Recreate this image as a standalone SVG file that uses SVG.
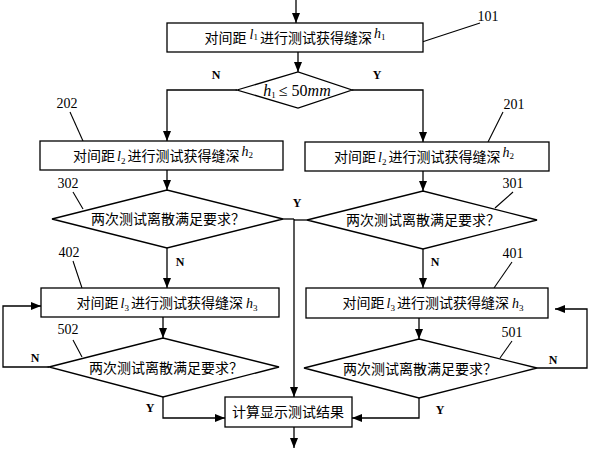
<svg xmlns="http://www.w3.org/2000/svg" width="591" height="450" viewBox="0 0 591 450">
<defs>
<marker id="ah" markerUnits="userSpaceOnUse" markerWidth="10" markerHeight="8" refX="10" refY="4" orient="auto">
<path d="M0,0 L10,4 L0,8 z" fill="#000"/>
</marker>
<style>
.box{fill:#fff;stroke:#000;stroke-width:1.3}
.ln{fill:none;stroke:#000;stroke-width:1.3}
.ld{fill:none;stroke:#000;stroke-width:1.1}
.arr{fill:none;stroke:#000;stroke-width:1.3;marker-end:url(#ah)}
.t{font-family:"Liberation Serif","Noto Sans CJK SC",serif;font-size:14px;fill:#000;text-anchor:middle}
.num{font-family:"Liberation Serif",serif;font-size:14px;fill:#000;text-anchor:middle}
.yn{font-family:"Liberation Serif",serif;font-size:12px;font-weight:bold;fill:#000;text-anchor:middle}
.i{font-style:italic}
.s{font-size:9px}
</style>
</defs>
<rect width="591" height="450" fill="#fff"/>
<g id="connectors">
<line class="arr" x1="296" y1="0" x2="296" y2="23"/>
<line class="arr" x1="298" y1="52" x2="298" y2="72"/>
<polyline class="arr" points="237,90 167,90 167,141"/>
<polyline class="arr" points="352,90 423,90 423,142"/>
<line class="arr" x1="167" y1="170" x2="167" y2="190"/>
<line class="arr" x1="423" y1="171" x2="423" y2="191"/>
<polyline class="ln" points="283,219 294,219"/>
<polyline class="ln" points="307,220 294,220"/>
<line class="arr" x1="294" y1="219" x2="294" y2="397"/>
<line class="arr" x1="167" y1="248" x2="167" y2="288"/>
<line class="arr" x1="423" y1="249" x2="423" y2="288"/>
<line class="arr" x1="163" y1="317" x2="163" y2="338"/>
<line class="arr" x1="419" y1="318" x2="419" y2="339"/>
<polyline class="arr" points="49,367 3,367 3,306 41,306"/>
<polyline class="arr" points="537,368 587,368 587,309 555,309"/>
<polyline class="arr" points="163,397 163,418 225,418"/>
<polyline class="arr" points="419,398 419,418 352,418"/>
<line class="arr" x1="294" y1="427" x2="294" y2="448"/>
<line class="ld" x1="422" y1="42" x2="480" y2="23"/>
<line class="ld" x1="70" y1="112" x2="83" y2="141"/>
<line class="ld" x1="503" y1="112" x2="488" y2="142"/>
<line class="ld" x1="73" y1="192" x2="83" y2="209"/>
<line class="ld" x1="513" y1="192" x2="495" y2="208"/>
<line class="ld" x1="73" y1="261" x2="82" y2="288"/>
<line class="ld" x1="512" y1="262" x2="494" y2="288"/>
<line class="ld" x1="73" y1="340" x2="82" y2="357"/>
<line class="ld" x1="512" y1="341" x2="500" y2="358"/>
<text class="yn" x="216" y="79">N</text>
<text class="yn" x="377" y="79">Y</text>
<text class="yn" x="297" y="207">Y</text>
<text class="yn" x="180" y="266">N</text>
<text class="yn" x="435" y="266">N</text>
<text class="yn" x="35" y="362">N</text>
<text class="yn" x="553" y="364">N</text>
<text class="yn" x="150" y="412">Y</text>
<text class="yn" x="440" y="414">Y</text>
</g>
<g id="n101">
<rect class="box" x="167" y="23" width="256" height="29"/>
<text class="t" x="295" y="43">对间距<tspan class="i" dx="3" dy="-4">l</tspan><tspan class="s" dy="1">1</tspan><tspan dx="2" dy="3">进行测试获得缝深</tspan><tspan class="i" dx="2" dy="-5">h</tspan><tspan class="s" dy="2">1</tspan></text>
<text class="num" x="488" y="21">101</text>
</g>
<g id="d1">
<polygon class="box" points="237,90 298,72 352,90 298,108"/>
<text class="t" x="297" y="96" style="font-family:'Liberation Serif',serif;font-size:16px"><tspan class="i">h</tspan><tspan font-size="9" dy="2">1</tspan><tspan dy="-2" dx="3">≤ 50</tspan><tspan class="i">mm</tspan></text>
</g>
<g id="n202">
<rect class="box" x="40" y="141" width="243" height="29"/>
<text class="t" x="163" y="161">对间距<tspan class="i" dx="2">l</tspan><tspan class="s" dy="3">2</tspan><tspan dx="2" dy="-3">进行测试获得缝深</tspan><tspan class="i" dx="2" dy="-5">h</tspan><tspan class="s" dy="2">2</tspan></text>
<text class="num" x="67" y="108">202</text>
</g>
<g id="n201">
<rect class="box" x="305" y="142" width="244" height="29"/>
<text class="t" x="424" y="162">对间距<tspan class="i" dx="2">l</tspan><tspan class="s" dy="3">2</tspan><tspan dx="2" dy="-3">进行测试获得缝深</tspan><tspan class="i" dx="2" dy="-5">h</tspan><tspan class="s" dy="2">2</tspan></text>
<text class="num" x="514" y="109">201</text>
</g>
<g id="n302">
<polygon class="box" points="52,219 167,190 283,219 167,248"/>
<text class="t" x="168" y="224">两次测试离散满足要求？</text>
<text class="num" x="68" y="188">302</text>
</g>
<g id="n301">
<polygon class="box" points="307,220 423,191 537,220 423,249"/>
<text class="t" x="423" y="225">两次测试离散满足要求？</text>
<text class="num" x="513" y="188">301</text>
</g>
<g id="n402">
<rect class="box" x="41" y="288" width="238" height="29"/>
<text class="t" x="167" y="308">对间距<tspan class="i" dx="2">l</tspan><tspan class="s" dy="3">3</tspan><tspan dx="2" dy="-3">进行测试获得缝深</tspan><tspan class="i" dx="3">h</tspan><tspan class="s" dy="3">3</tspan></text>
<text class="num" x="69" y="257">402</text>
</g>
<g id="n401">
<rect class="box" x="306" y="288" width="242" height="30"/>
<text class="t" x="433" y="308">对间距<tspan class="i" dx="2">l</tspan><tspan class="s" dy="3">3</tspan><tspan dx="2" dy="-3">进行测试获得缝深</tspan><tspan class="i" dx="3">h</tspan><tspan class="s" dy="3">3</tspan></text>
<text class="num" x="513" y="258">401</text>
</g>
<g id="n502">
<polygon class="box" points="49,367 163,338 279,367 163,397"/>
<text class="t" x="166" y="373">两次测试离散满足要求？</text>
<text class="num" x="68" y="334">502</text>
</g>
<g id="n501">
<polygon class="box" points="304,368 419,339 537,368 419,398"/>
<text class="t" x="420" y="374">两次测试离散满足要求？</text>
<text class="num" x="512" y="337">501</text>
</g>
<g id="calc">
<rect class="box" x="225" y="397" width="127" height="30"/>
<text class="t" x="288" y="417">计算显示测试结果</text>
</g>
</svg>
